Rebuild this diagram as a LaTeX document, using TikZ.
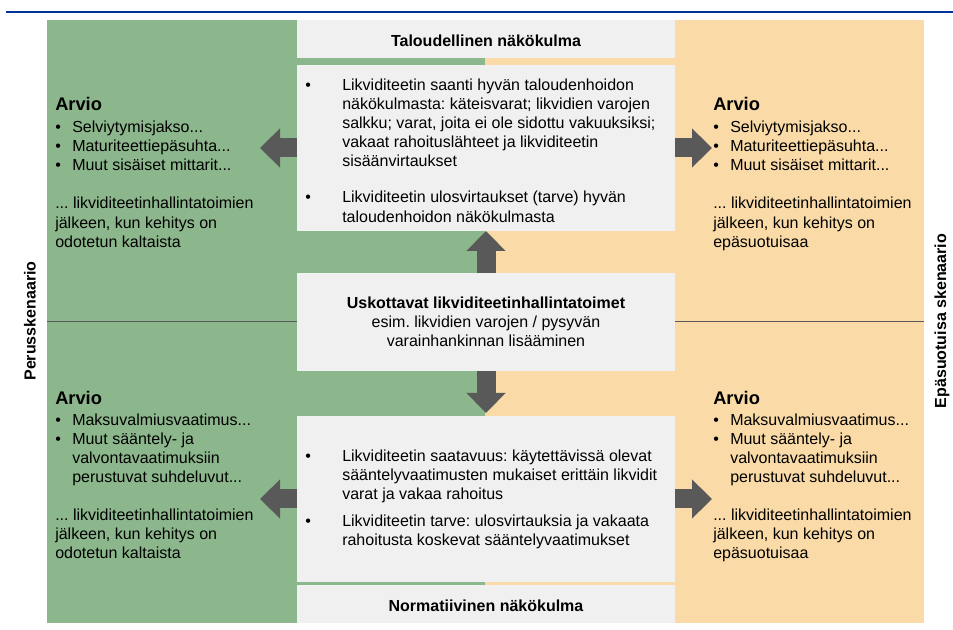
\documentclass[tikz,border=0pt]{standalone}
\usepackage{fontspec}
\setmainfont{Liberation Sans}
\frenchspacing
\usetikzlibrary{positioning, fit, arrows.meta}
\definecolor{Perus}{HTML}{8CB78C}
\definecolor{Epas}{HTML}{FADBA7}
\definecolor{Laatikko}{HTML}{F0F0F0}
\definecolor{Nuoli}{HTML}{595959}
\definecolor{Viiva}{HTML}{003399}
\definecolor{Jako}{HTML}{5A5A5A}
\newcommand{\pall}[1]{\makebox[#1][l]{•}}
\newcommand{\arvio}{\multicolumn{2}{@{}l@{}}{\bfseries\fontsize{13.7}{16}\selectfont Arvio}}
\newcommand{\koko}[1]{\multicolumn{2}{@{}l@{}}{#1}}
\tikzset{
    scenpanel/.style={rectangle, inner sep=0pt, outer sep=0pt},
    greybox/.style={rectangle, fill=Laatikko, inner sep=0pt, outer sep=0pt},
    headtext/.style={inner sep=0pt, font=\bfseries\fontsize{12}{14.3}\selectfont},
    midtext/.style={inner sep=0pt, align=center, font=\fontsize{12}{14.3}\selectfont},
    bodytext/.style={inner sep=0pt, anchor=north west, font=\fontsize{12}{14.3}\selectfont},
    fatarrow/.style={draw=Nuoli, line width=14.25pt, -{Triangle[length=15pt, width=28.5pt]}},
    sidelabel/.style={rotate=90, inner sep=0pt, font=\bfseries\fontsize{12}{14.3}\selectfont},
}

\begin{document}
\begin{tikzpicture}[x=0.75pt, y=-0.75pt]
    \useasboundingbox (0,0) rectangle (953,630);
    % Yläviiva
    \draw[Viiva, line width=1.5pt] (6,12) -- (953,12);

    % Skenaariot
    \node[scenpanel, fill=Perus, fit={(47,20) (485,623)}] (perus) {};
    \node[scenpanel, fill=Epas, fit={(485,20) (924,623)}] (epas) {};
    \draw[Jako, line width=0.75pt] (perus.west) -- (epas.east);

    % Näkökulmat
    \node[greybox, fit={(297,20) (675,58)}] (taloushead) {};
    \node[greybox, fit={(297,65) (675,231)}] (talous) {};
    \node[greybox, fit={(297,273) (675,371)}] (toimet) {};
    \node[greybox, fit={(297,416) (675,582)}] (normi) {};
    \node[greybox, fit={(297,585) (675,623)}] (normihead) {};
    \node[headtext] (talousotsikko) at ([yshift=-1.5pt]taloushead.center) {Taloudellinen näkökulma};
    \node[headtext] (normiotsikko) at ([yshift=-1.5pt]normihead.center) {Normatiivinen näkökulma};
    \node[midtext] (toimetteksti) at (toimet.center) {\textbf{Uskottavat likviditeetinhallintatoimet}\\esim. likvidien varojen / pysyvän\\varainhankinnan lisääminen};

    % Laatikoiden tekstit
    \node[bodytext] (talousteksti) at (305,77) {\begin{tabular}{@{}l@{}l@{}}
        \pall{27.75pt} & Likviditeetin saanti hyvän taloudenhoidon\\
        & näkökulmasta: käteisvarat; likvidien varojen\\
        & salkku; varat, joita ei ole sidottu vakuuksiksi;\\
        & vakaat rahoituslähteet ja likviditeetin\\
        & sisäänvirtaukset\\[12.75pt]
        \pall{27.75pt} & Likviditeetin ulosvirtaukset (tarve) hyvän\\
        & taloudenhoidon näkökulmasta
    \end{tabular}};
    \node[bodytext] (normiteksti) at (305,448) {\begin{tabular}{@{}l@{}l@{}}
        \pall{27.75pt} & Likviditeetin saatavuus: käytettävissä olevat\\
        & sääntelyvaatimusten mukaiset erittäin likvidit\\
        & varat ja vakaa rahoitus\\[6pt]
        \pall{27.75pt} & Likviditeetin tarve: ulosvirtauksia ja vakaata\\
        & rahoitusta koskevat sääntelyvaatimukset
    \end{tabular}};

    % Arviot
    \node[bodytext] (arvioyv) at (55,97) {\begin{tabular}{@{}l@{}l@{}}
        \arvio\\[2.25pt]
        \pall{12.75pt} & Selviytymisjakso...\\
        \pall{12.75pt} & Maturiteettiepäsuhta...\\
        \pall{12.75pt} & Muut sisäiset mittarit...\\
        \koko{}\\
        \koko{... likviditeetinhallintatoimien}\\
        \koko{jälkeen, kun kehitys on}\\
        \koko{odotetun kaltaista}
    \end{tabular}};
    \node[bodytext] (arvioyo) at (713,97) {\begin{tabular}{@{}l@{}l@{}}
        \arvio\\[2.25pt]
        \pall{12.75pt} & Selviytymisjakso...\\
        \pall{12.75pt} & Maturiteettiepäsuhta...\\
        \pall{12.75pt} & Muut sisäiset mittarit...\\
        \koko{}\\
        \koko{... likviditeetinhallintatoimien}\\
        \koko{jälkeen, kun kehitys on}\\
        \koko{epäsuotuisaa}
    \end{tabular}};
    \node[bodytext] (arvioav) at (55,391) {\begin{tabular}{@{}l@{}l@{}}
        \arvio\\[1pt]
        \pall{12.75pt} & Maksuvalmiusvaatimus...\\
        \pall{12.75pt} & Muut sääntely- ja\\
        & valvontavaatimuksiin\\
        & perustuvat suhdeluvut...\\
        \koko{}\\
        \koko{... likviditeetinhallintatoimien}\\
        \koko{jälkeen, kun kehitys on}\\
        \koko{odotetun kaltaista}
    \end{tabular}};
    \node[bodytext] (arvioao) at (713,391) {\begin{tabular}{@{}l@{}l@{}}
        \arvio\\[1pt]
        \pall{12.75pt} & Maksuvalmiusvaatimus...\\
        \pall{12.75pt} & Muut sääntely- ja\\
        & valvontavaatimuksiin\\
        & perustuvat suhdeluvut...\\
        \koko{}\\
        \koko{... likviditeetinhallintatoimien}\\
        \koko{jälkeen, kun kehitys on}\\
        \koko{epäsuotuisaa}
    \end{tabular}};

    % Skenaarioiden nimet
    \node[sidelabel] (peruslabel) at (30,321) {Perusskenaario};
    \node[sidelabel] (epaslabel) at (942,321) {Epäsuotuisa skenaario};

    % Nuolet
    \coordinate (kv) at (260,148);
    \coordinate (ko) at (712,148);
    \coordinate (av) at (260,499);
    \coordinate (ao) at (712,499);
    \draw[fatarrow] (toimet.north) -- (talous.south);
    \draw[fatarrow, shorten >=2.25pt] (toimet.south) -- (normi.north);
    \draw[fatarrow] (talous.west) -- (kv);
    \draw[fatarrow] (talous.east) -- (ko);
    \draw[fatarrow] (normi.west) -- (av);
    \draw[fatarrow] (normi.east) -- (ao);
\end{tikzpicture}
\end{document}
